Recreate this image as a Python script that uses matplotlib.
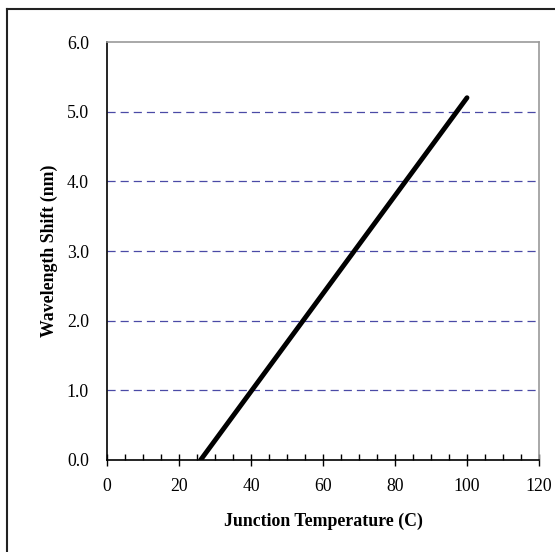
import matplotlib
matplotlib.use("Agg")
from matplotlib import pyplot as plt
from matplotlib.lines import Line2D
from matplotlib.ticker import MultipleLocator, FormatStrFormatter

# junction temperature (C) vs wavelength shift (nm)
tempC = [26, 100]
shiftNm = [0.0, 5.2]

xTicks = [0, 20, 40, 60, 80, 100, 120]
yTicks = [0.0, 1.0, 2.0, 3.0, 4.0, 5.0, 6.0]

plt.rcParams['font.family'] = ['Liberation Serif', 'DejaVu Serif']

fig = plt.figure(figsize=(5.55, 5.52), dpi=100)
ax = fig.add_axes([107/555, 1 - 460/552, (539-107)/555, (460-42)/552])

# dashed gridlines
for y in yTicks[1:-1]:
    ax.axhline(y, color='#4a4aa6', linewidth=0.9, dashes=(6.5, 4), zorder=1)

ax.plot(tempC, shiftNm, color='black', linewidth=3.5, solid_capstyle='round', zorder=3)

ax.set_xlim(0, 120)
ax.set_ylim(0, 6.0)
ax.set_xticks(xTicks)
ax.set_yticks(yTicks)
ax.yaxis.set_major_formatter(FormatStrFormatter('%.1f'))
ax.xaxis.set_minor_locator(MultipleLocator(5))

ax.tick_params(axis='x', which='major', direction='inout', length=8, width=1, labelsize=12.8, pad=9)
ax.tick_params(axis='x', which='minor', direction='in', length=4, width=1)
ax.tick_params(axis='y', which='major', length=0, labelsize=12.8, pad=13)

for s in ['left', 'bottom']:
    ax.spines[s].set_color('black')
    ax.spines[s].set_linewidth(1.2)
for s in ['right', 'top']:
    ax.spines[s].set_color('#999999')
    ax.spines[s].set_linewidth(1.2)

ax.set_xlabel('Junction Temperature (C)', fontsize=12.8, fontweight='bold', labelpad=13)
ax.set_ylabel('Wavelength Shift (nm)', fontsize=12.8, fontweight='bold', labelpad=6)

# outer chart border (left and top edges visible)
fig.add_artist(Line2D([6.5/555, 6.5/555], [0, 1 - 8.5/552], color='#222222', linewidth=1.5, transform=fig.transFigure))
fig.add_artist(Line2D([6.5/555, 1], [1 - 8.5/552, 1 - 8.5/552], color='#222222', linewidth=1.5, transform=fig.transFigure))

fig.savefig('out.png', dpi=100)
